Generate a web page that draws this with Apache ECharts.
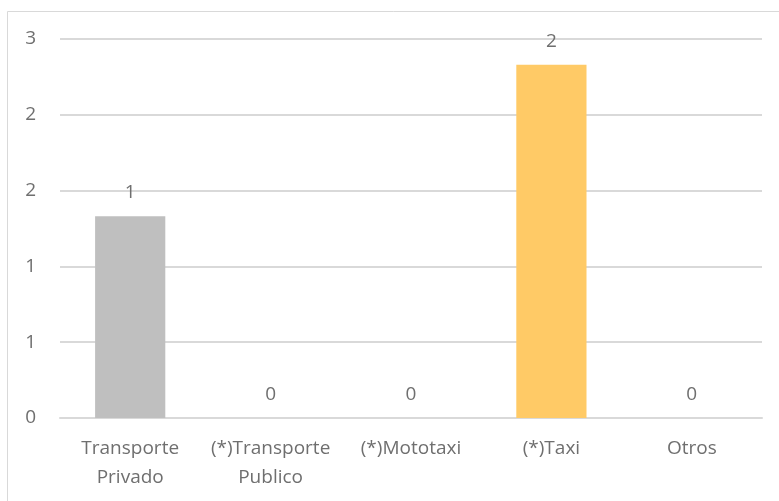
<!DOCTYPE html>
<html>
<head>
<meta charset="utf-8">
<script src="https://cdn.jsdelivr.net/npm/echarts@6/dist/echarts.min.js"></script>
<style>
  html, body { margin: 0; padding: 0; background: #fff; }
  #chart { width: 779px; height: 501px; }
</style>
</head>
<body>
<div id="chart"></div>
<script>
// Trips by mode of transport
const categories = ['Transporte\nPrivado', '(*)Transporte\nPublico', '(*)Mototaxi', '(*)Taxi', 'Otros'];
const values = [1.33, 0, 0, 2.33, 0];
const barColors = ['#bfbfbf', '#bfbfbf', '#bfbfbf', '#ffca66', '#bfbfbf'];

const textColor = '#6f6f6f';
const fontFamily = '"Open Sans", "Noto Sans", sans-serif';

const chart = echarts.init(document.getElementById('chart'));
chart.setOption({
  animation: false,
  backgroundColor: '#fff',
  graphic: [{
    type: 'rect',
    shape: { x: 7.5, y: 11.5, width: 800, height: 600 },
    style: { fill: 'none', stroke: '#d9d9d9', lineWidth: 1 },
    silent: true
  }],
  grid: { left: 60, right: 17, top: 39, bottom: 83, containLabel: false },
  xAxis: {
    type: 'category',
    data: categories,
    axisLine: { show: true, lineStyle: { color: '#d9d9d9', width: 2 } },
    axisTick: { show: false },
    axisLabel: {
      color: textColor, fontSize: 19, fontFamily: fontFamily,
      lineHeight: 29, margin: 16, interval: 0
    }
  },
  yAxis: {
    type: 'value',
    min: 0, max: 2.5, interval: 0.5,
    axisLine: { show: false },
    axisTick: { show: false },
    splitLine: { lineStyle: { color: '#d9d9d9', width: 2 } },
    axisLabel: {
      color: textColor, fontSize: 19, fontFamily: fontFamily, margin: 24,
      formatter: v => String(Math.round(v))
    }
  },
  series: [{
    type: 'bar',
    barWidth: '50%',
    data: values.map((v, i) => ({ value: v, itemStyle: { color: barColors[i] } })),
    label: {
      show: true, position: 'top', distance: 14,
      color: textColor, fontSize: 19, fontFamily: fontFamily,
      formatter: p => String(Math.round(p.value))
    }
  }]
});
</script>
</body>
</html>
